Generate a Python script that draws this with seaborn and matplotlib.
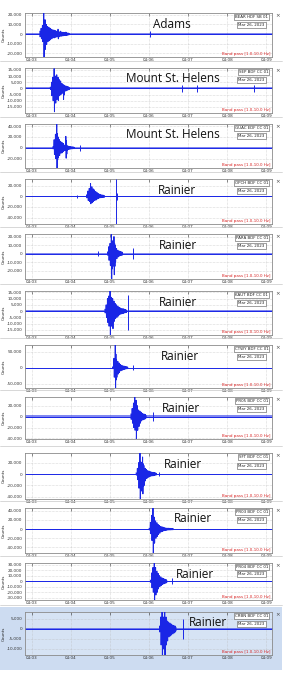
import numpy as np
import pandas as pd
import matplotlib
matplotlib.use("Agg")
import matplotlib.pyplot as plt
from matplotlib.patches import Rectangle
from matplotlib.lines import Line2D
import seaborn as sns

# ---------------- data ----------------
volcanoes = ["Adams", "Mount St. Helens", "Mount St. Helens", "Rainier", "Rainier", "Rainier",
             "Rainier", "Rainier", "Rainier", "Rainier", "Rainier", "Rainier"]
stations = ["BEAR HDF SB 01", "SEP BDF CC 01", "GUAC EDF CC 01", "OPCH BDF CC 01", "PARA BDF CC 01",
            "KAUT BDF CC 01", "CTWY BDF CC 01", "PR05 BDF CC 01", "SFT BDF CC 01", "PR03 BDF CC 01",
            "PR04 BDF CC 01", "CRBN BDF CC 01"]
date_label = "Mar 26, 2023"
filter_label = "Band pass [1.0-10.0 Hz]"
x_tick_labels = ["04:03", "04:04", "04:05", "04:06", "04:07", "04:08", "04:09"]

y_ticks = [
    [20000, 10000, 0, -10000, -20000],
    [15000, 10000, 5000, 0, -5000, -10000, -15000],
    [40000, 20000, 0, -20000],
    [20000, 0, -20000, -40000],
    [20000, 10000, 0, -10000, -20000],
    [15000, 10000, 5000, 0, -5000, -10000, -15000],
    [50000, 0, -50000],
    [20000, 0, -20000, -40000],
    [20000, 0, -20000, -40000],
    [40000, 20000, 0, -20000, -40000],
    [30000, 20000, 10000, 0, -10000, -20000, -30000],
    [5000, 0, -5000, -10000],
]
y_limits = [(-24000, 22000), (-20000, 16500), (-37000, 43700), (-52000, 32500), (-30000, 23000),
            (-19000, 16000), (-64000, 72000), (-41000, 36000), (-44000, 37000), (-52000, 46000),
            (-34000, 33000), (-13000, 8500)]

# background noise half-amplitude (counts)
noise_levels = [600, 900, 900, 800, 700, 500, 700, 2200, 800, 1200, 800, 400]

# main burst: first envelope sample time (s after 04:03:00), envelope sampled every 2 s
burst_start = [12, 28, 32, 84, 116, 112, 124, 152, 160, 180, 182, 196]
burst_upper = [
    [3000, 6000, 9000, 22000, 15000, 10000, 8000, 7000, 6000, 5000, 4500, 4000, 3500, 3000, 5000, 2000, 3000, 2000, 1800, 1500, 2000, 1200, 1000],
    [1000, 5000, 9000, 16000, 10000, 11000, 9000, 7000, 6000, 4000, 3000, 2500, 2000, 1500, 1200],
    [2000, 15000, 25000, 43700, 20000, 15000, 12000, 10000, 8000, 5000, 21000, 4000, 3000, 2500, 2000, 1800, 1500],
    [3000, 10000, 15000, 24000, 18000, 14000, 12000, 9000, 7000, 5000, 4000, 3000, 2500, 2000],
    [2000, 8000, 12000, 23000, 15000, 20000, 10000, 6000, 4000, 3000, 2500, 2000],
    [1500, 5000, 10000, 12000, 16000, 11000, 10000, 8000, 6000, 5000, 4000, 3000, 2500, 2000, 2000, 1500, 1200],
    [3000, 30000, 72000, 25000, 20000, 15000, 10000, 8000, 6000, 5000, 4000, 3000],
    [5000, 15000, 25000, 36000, 30000, 20000, 12000, 10000, 8000, 6000, 5000, 4000],
    [2000, 10000, 20000, 37000, 20000, 30000, 15000, 10000, 8000, 6000, 5000, 4000, 3500, 3000, 2500, 2000],
    [2000, 15000, 30000, 46000, 25000, 18000, 14000, 10000, 8000, 6000, 5000, 4000, 3000, 2500, 2000, 2000, 1800, 1500, 1500],
    [2000, 15000, 25000, 33000, 25000, 18000, 14000, 10000, 8000, 6000, 5000, 4000, 3000],
    [1500, 6000, 9000, 6000, 9000, 6000, 4000, 3500, 3000, 2500, 2000, 1800, 1500],
]
burst_lower = [
    [-3000, -5000, -8000, -24000, -16000, -11000, -8000, -7000, -6000, -5000, -4000, -4000, -3500, -3000, -5000, -2000, -2500, -2000, -1800, -1500, -1500, -1200, -1000],
    [-1000, -6000, -10000, -19000, -12000, -9000, -10000, -6000, -5000, -4000, -9000, -2500, -2000, -1500, -1200],
    [-2000, -12000, -20000, -37000, -18000, -14000, -10000, -9000, -7000, -5000, -19000, -4000, -3000, -2500, -2000, -1800, -1500],
    [-3000, -8000, -10000, -14000, -12000, -10000, -8000, -7000, -5000, -4000, -3000, -2500, -2000, -2000],
    [-2000, -8000, -14000, -30000, -15000, -25000, -10000, -6000, -4000, -3000, -2500, -2000],
    [-1500, -5000, -9000, -12000, -19000, -12000, -14000, -8000, -6000, -5000, -4000, -3000, -2500, -2000, -1800, -1500, -1200],
    [-3000, -30000, -64000, -30000, -20000, -15000, -10000, -8000, -6000, -5000, -4000, -3000],
    [-5000, -12000, -20000, -25000, -41000, -25000, -18000, -12000, -8000, -6000, -5000, -4000],
    [-2000, -10000, -25000, -44000, -30000, -35000, -20000, -12000, -8000, -6000, -5000, -4000, -3500, -3000, -2500, -2000],
    [-2000, -10000, -25000, -52000, -30000, -20000, -16000, -12000, -9000, -6000, -5000, -4000, -3000, -2500, -2000, -2000, -1800, -1500, -1500],
    [-2000, -12000, -20000, -34000, -25000, -20000, -14000, -10000, -8000, -6000, -5000, -4000, -3000],
    [-1500, -8000, -13000, -10000, -13000, -8000, -6000, -4000, -3500, -3000, -2500, -2000, -1500],
]

# isolated arrivals: (time s after 04:03, top, bottom)
spike_times = [[182], [230, 253, 342], [74], [69, 129, 131], [102, 155], [147], [155], [186], [196], [], [216], [232]]
spike_tops = [[3000], [3000, 3000, 3000], [5000], [3000, 32500, 7000], [3000, 6000], [13000], [8000], [8000], [4000], [], [5000], [5000]]
spike_bottoms = [[-3000], [-3000, -3000, -3000], [-5000], [-3000, -52000, -7000], [-3000, -6000], [-15000], [-8000], [-8000], [-4000], [], [-5000], [-5000]]

# ---------------- layout ----------------
W, H = 285, 680
panel_tops = [13, 68, 124, 179, 234, 291, 345, 397, 453, 508, 563, 612]
panel_bottoms = [57, 113, 168, 224, 279, 335, 388, 439, 499, 553, 600, 655]
label_x = [172, 173, 173, 177, 178, 178, 180, 181, 183, 193, 195, 208]
AX_L, AX_R = 25, 272

trace_color = "#1a26e6"

sns.set_theme(style="white")
plt.rcParams["font.family"] = ["DejaVu Sans"]

fig = plt.figure(figsize=(W / 100, H / 100), dpi=100)
fig.patch.set_facecolor("white")

# highlighted last row
fig.patches.append(Rectangle((0, 1 - 670 / H), 282 / W, 63 / H, transform=fig.transFigure,
                             facecolor="#cddcf1", edgecolor="none", zorder=-5))

for i in range(12):
    top, bot = panel_tops[i], panel_bottoms[i]
    ax = fig.add_axes([AX_L / W, 1 - bot / H, (AX_R - AX_L) / W, (bot - top) / H])
    ax.set_zorder(1)
    ax.set_facecolor("#d6e3f4" if i == 11 else "white")
    ymin, ymax = y_limits[i]

    # baseline noise band + line
    ax.fill_between([-0.2, 6.2], -noise_levels[i], noise_levels[i], color=trace_color, alpha=0.55,
                    lw=0, zorder=2)
    ax.axhline(0, color=trace_color, lw=0.7, zorder=2)

    # burst as a dense zig-zag between upper and lower envelopes
    t0 = burst_start[i]
    xs, ys = [], []
    for k, (u, d) in enumerate(zip(burst_upper[i], burst_lower[i])):
        t = t0 + 2 * k
        xs += [t / 60, (t + 0.5) / 60, (t + 1.0) / 60, (t + 1.5) / 60]
        ys += [u, d, u * 0.6, d * 0.6]
    df = pd.DataFrame({"t": xs, "v": np.clip(ys, ymin, ymax)})
    sns.lineplot(data=df, x="t", y="v", sort=False, estimator=None, color=trace_color,
                 lw=0.7, ax=ax, zorder=3)

    # isolated spikes
    for t, u, d in zip(spike_times[i], spike_tops[i], spike_bottoms[i]):
        ax.vlines(t / 60, max(d, ymin), min(u, ymax), color=trace_color, lw=0.7, zorder=3)

    ax.set_xlim(-0.18, 6.15)
    ax.set_ylim(ymin, ymax)
    ax.set_xticks(range(7))
    ax.set_xticklabels(x_tick_labels)
    ax.set_yticks(y_ticks[i])
    ax.set_yticklabels([f"{v:,}" for v in y_ticks[i]])
    ax.set_xlabel("")
    ax.set_ylabel("Counts", fontsize=3.0, color="#222")
    ax.yaxis.set_label_coords(-19.5 / (AX_R - AX_L), 0.5)
    ax.tick_params(axis="both", labelsize=3.0, colors="#333", length=1.2, width=0.4, pad=0.8)
    ax.tick_params(axis="x", top=True, direction="in", length=2)
    ax.grid(True, color="#b8b8b8", lw=0.4, ls=(0, (1, 1.5)))
    for s in ax.spines.values():
        s.set_color("#8a8a8a")
        s.set_linewidth(0.6)

    ax.text(label_x[i] / W, 1 - (top + 11) / H, volcanoes[i], transform=fig.transFigure,
            ha="center", va="center", fontsize=8.5, family="Open Sans", color="#111", zorder=5)
    box = dict(boxstyle="square,pad=0.25", fc="white", ec="#555", lw=0.4)
    ax.text(0.985, 0.95, stations[i], transform=ax.transAxes, ha="right", va="top",
            fontsize=2.9, color="#222", bbox=box, zorder=6)
    ax.text(0.97, 0.77, date_label, transform=ax.transAxes, ha="right", va="top",
            fontsize=2.9, color="#222", bbox=box, zorder=6)
    ax.text(0.995, 0.02, filter_label, transform=ax.transAxes, ha="right", va="bottom",
            fontsize=2.9, color="#d82020", zorder=6)
    fig.text(278 / W, 1 - (top + 3) / H, "×", ha="center", va="center", fontsize=4, color="#444")
    if i > 0:
        fig.add_artist(Line2D([0, 282 / W], [1 - (top - 7) / H] * 2, color="#c8c8c8", lw=0.5))

fig.savefig("out.png", dpi=100)
